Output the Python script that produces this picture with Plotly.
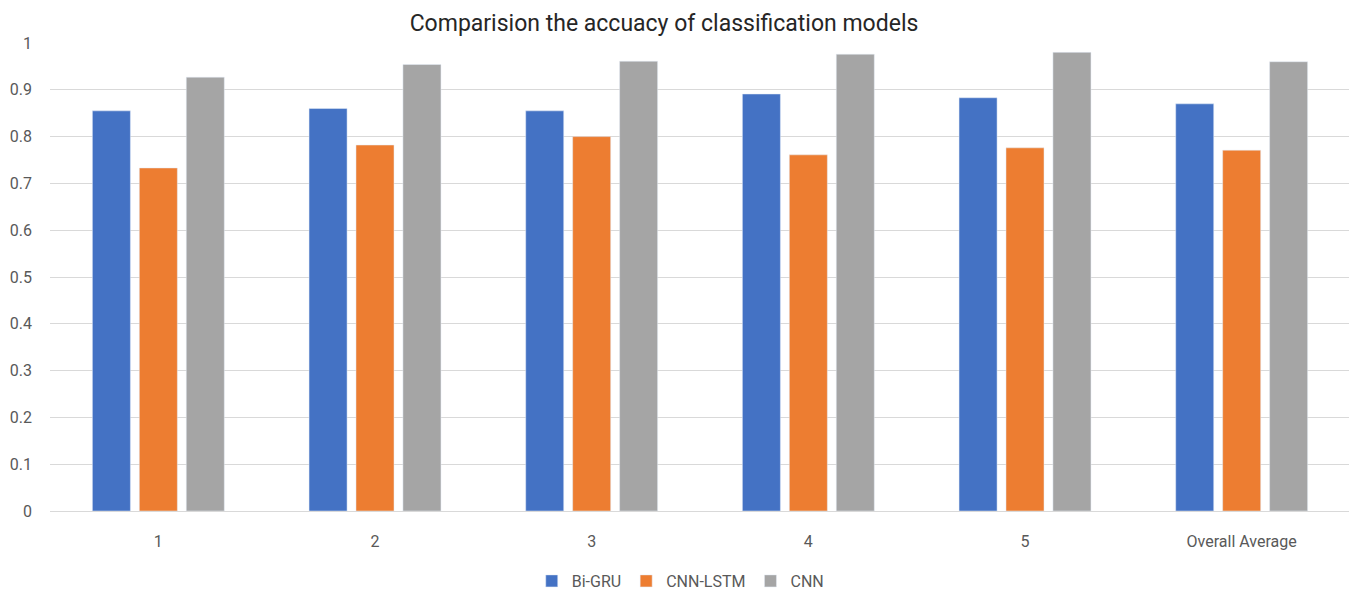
import plotly.graph_objects as go

categories = ["1", "2", "3", "4", "5", "Overall Average"]
bi_gru = [0.855, 0.860, 0.855, 0.891, 0.883, 0.870]
cnn_lstm = [0.733, 0.782, 0.800, 0.761, 0.776, 0.771]
cnn = [0.927, 0.954, 0.961, 0.976, 0.980, 0.960]
y_ticks = [0, 0.1, 0.2, 0.3, 0.4, 0.5, 0.6, 0.7, 0.8, 0.9, 1]
y_tick_labels = ["0", "0.1", "0.2", "0.3", "0.4", "0.5", "0.6", "0.7", "0.8", "0.9", "1"]

W, H = 1349, 588

fig = go.Figure()
fig.add_trace(go.Bar(name="Bi-GRU", x=categories, y=bi_gru, marker_color="#4472C4"))
fig.add_trace(go.Bar(name="CNN-LSTM", x=categories, y=cnn_lstm, marker_color="#ED7D31"))
fig.add_trace(go.Bar(name="CNN", x=categories, y=cnn, marker_color="#A5A5A5"))

fig.update_layout(
    width=W, height=H,
    barmode="group", bargap=0.35, bargroupgap=0.19,
    paper_bgcolor="white", plot_bgcolor="white",
    margin=dict(l=42, r=7, t=35, b=85, autoexpand=False),
    font=dict(family="Roboto, sans-serif", color="#595959", size=15),
    title=dict(text="Comparision the accuacy of classification models",
               x=656 / W, xanchor="center", y=1 - 15 / H, yanchor="middle", pad=dict(t=0),
               font=dict(size=23, color="#262626")),
    legend=dict(orientation="h", x=654 / W, xanchor="center", yref="container",
                y=15 / H, yanchor="middle", font=dict(size=16, color="#595959"),
                itemwidth=30, traceorder="normal"),
    xaxis=dict(showgrid=False, showline=True, linecolor="#D9D9D9", linewidth=1,
               ticks="", ticklabelstandoff=16, tickfont=dict(size=16), automargin=False),
    yaxis=dict(range=[0, 1], tickvals=y_ticks, ticktext=y_tick_labels,
               showgrid=True, gridcolor="#D9D9D9", gridwidth=1, zeroline=False,
               showline=False, ticklabelstandoff=17, tickfont=dict(size=16),
               automargin=False),
)

fig.write_html("out.html")
